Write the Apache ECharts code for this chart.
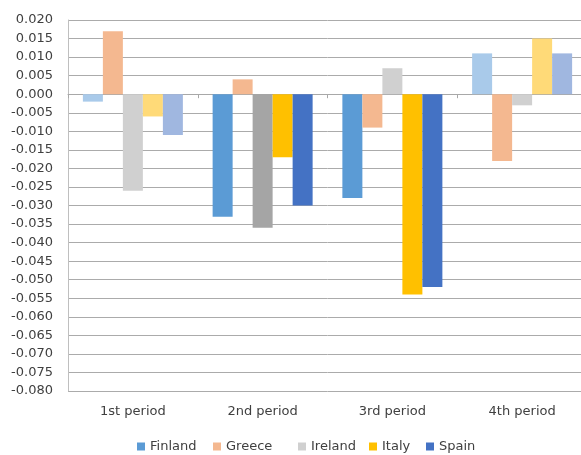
<!DOCTYPE html>
<html>
<head>
<meta charset="utf-8">
<script src="https://cdn.jsdelivr.net/npm/echarts@6/dist/echarts.min.js"></script>
<style>
  html, body { margin: 0; padding: 0; background: #fff; overflow: hidden; }
  /* the plot area runs a few pixels past the right edge of the window */
  #chart { width: 587px; height: 455px; }
</style>
</head>
<body>
<div id="chart"></div>
<script>
// Periods on the category axis
const periods = ['1st period', '2nd period', '3rd period', '4th period'];

// Change per country and period
const finland = [-0.002, -0.033, -0.028, 0.011];
const greece  = [0.017, 0.004, -0.009, -0.018];
const ireland = [-0.026, -0.036, 0.007, -0.003];
const italy   = [-0.006, -0.017, -0.054, 0.015];
const spain   = [-0.011, -0.030, -0.052, 0.011];

const countries = ['Finland', 'Greece', 'Ireland', 'Italy', 'Spain'];

// Bar fills: legend colour plus the per-period shade of each country
const legendColors = ['#5B9BD5', '#F4B890', '#D0D0D0', '#FFC000', '#4472C4'];
const periodColors = [
  ['#A9CAEA', '#5B9BD5', '#5B9BD5', '#A9CAEA'],
  ['#F4B890', '#F4B890', '#F4B890', '#F4B890'],
  ['#D0D0D0', '#A5A5A5', '#D0D0D0', '#D0D0D0'],
  ['#FFDA78', '#FFC000', '#FFC000', '#FFDA78'],
  ['#A0B7E0', '#4472C4', '#4472C4', '#A0B7E0']
];

const values = [finland, greece, ireland, italy, spain];

// Left edge of each legend entry
const legendLeft = [137, 213, 298, 369, 426];

const font = 'DejaVu Sans';
const textColor = '#404040';

const chart = echarts.init(document.getElementById('chart'), null, { renderer: 'canvas' });

chart.setOption({
  animation: false,
  color: legendColors,
  grid: { left: 68, right: 0, top: 20, bottom: 64, containLabel: false },
  legend: countries.map((name, i) => ({
    data: [name],
    left: legendLeft[i],
    top: 440,
    padding: 0,
    itemWidth: 8,
    itemHeight: 8,
    icon: 'rect',
    textStyle: { fontFamily: font, fontSize: 13, color: textColor }
  })),
  xAxis: [
    {
      type: 'category',
      data: periods,
      position: 'bottom',
      axisLine: { show: false, onZero: false },
      axisTick: { show: false },
      axisLabel: { fontFamily: font, fontSize: 13, color: textColor, margin: 14 },
      splitLine: { show: false }
    },
    {
      type: 'category',
      data: periods,
      position: 'bottom',
      axisLine: { show: true, onZero: true, lineStyle: { color: '#A8A8A8', width: 1 } },
      axisTick: { show: true, length: 4, lineStyle: { color: '#A8A8A8' } },
      axisLabel: { show: false },
      splitLine: { show: false }
    }
  ],
  yAxis: {
    type: 'value',
    min: -0.08,
    max: 0.02,
    interval: 0.005,
    axisLine: { show: true, lineStyle: { color: '#BFBFBF', width: 1 } },
    axisTick: { show: false },
    axisLabel: {
      fontFamily: font, fontSize: 13, color: textColor, margin: 15,
      formatter: v => v.toFixed(3)
    },
    splitLine: { show: true, lineStyle: { color: '#ABABAB', width: 1 } }
  },
  series: countries.map((name, i) => ({
    name: name,
    type: 'bar',
    xAxisIndex: 0,
    barWidth: 20,
    barGap: '0%',
    itemStyle: { color: legendColors[i] },
    data: values[i].map((v, j) => ({
      value: v,
      itemStyle: { color: periodColors[i][j] }
    }))
  }))
});
</script>
</body>
</html>
